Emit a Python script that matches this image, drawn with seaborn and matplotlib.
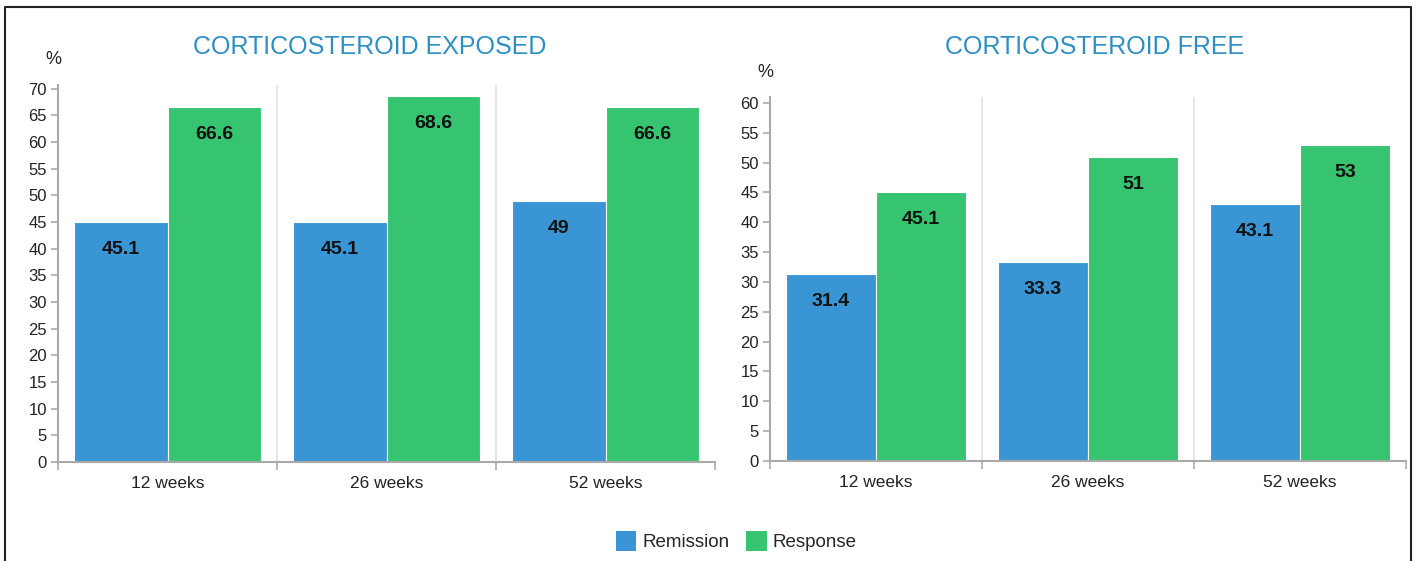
import matplotlib
matplotlib.use("Agg")
import matplotlib.pyplot as plt
from matplotlib.patches import Patch
from matplotlib.lines import Line2D
from matplotlib.ticker import FixedLocator
import seaborn as sns
import pandas as pd

# Data
weeks = ["12 weeks", "26 weeks", "52 weeks"]
measures = ["Remission", "Response"]
exposed_remission = [45.1, 45.1, 49]
exposed_response = [66.6, 68.6, 66.6]
free_remission = [31.4, 33.3, 43.1]
free_response = [45.1, 51, 53]
titles = ["CORTICOSTEROID EXPOSED", "CORTICOSTEROID FREE"]

BLUE = "#3a95d4"
GREEN = "#36c470"
TITLE_COLOR = "#2e8fc4"
AXIS_GRAY = "#a9a9a9"
GRID_GRAY = "#e3e3e3"

sns.set_theme(style="white")
plt.rcParams["font.family"] = ["Liberation Sans", "DejaVu Sans"]


def make_frame(rem, resp):
    rows = []
    for w, r, s in zip(weeks, rem, resp):
        rows.append({"week": w, "measure": measures[0], "value": r})
        rows.append({"week": w, "measure": measures[1], "value": s})
    return pd.DataFrame(rows)


fig = plt.figure(figsize=(14.17, 5.61), dpi=100)
fig.patch.set_facecolor("white")

W, H = 1417, 561
# axes boxes in pixel coordinates: left, right, bottom, top
boxes = [(58, 715, 462, 85), (770, 1406, 461, 97)]
ylims = [70.7, 61.0]
ymaxticks = [70, 60]
title_x = [370, 1095]
pct_pos = [(53, 60), (765, 72)]

datasets = [make_frame(exposed_remission, exposed_response),
            make_frame(free_remission, free_response)]

for i, (df, (l, r, b, t)) in enumerate(zip(datasets, boxes)):
    ax = fig.add_axes([l / W, 1 - b / H, (r - l) / W, (b - t) / H])
    sns.barplot(data=df, x="week", y="value", hue="measure", order=weeks,
                hue_order=measures, palette=[BLUE, GREEN], width=0.85,
                saturation=1, ax=ax, legend=False, edgecolor="white",
                linewidth=0.8)
    ax.set_xlim(-0.5, 2.5)
    ax.set_ylim(0, ylims[i])
    ax.set_xlabel("")
    ax.set_ylabel("")

    # horizontal grid every 15, tick labels every 5
    ax.yaxis.set_major_locator(FixedLocator(list(range(0, ymaxticks[i] + 1, 5))))
    ax.yaxis.set_minor_locator(FixedLocator(list(range(15, ymaxticks[i] + 1, 15))))
    ax.grid(False)
    ax.grid(which="minor", axis="y", color=GRID_GRAY, linewidth=1.2)
    for xv in (0.5, 1.5):
        ax.axvline(xv, color=GRID_GRAY, linewidth=1.2, zorder=0)
    ax.set_axisbelow(True)

    # category separator ticks on the x axis
    ax.xaxis.set_minor_locator(FixedLocator([-0.5, 0.5, 1.5, 2.5]))
    ax.tick_params(axis="x", which="major", length=0, pad=10, labelsize=12.5,
                   labelcolor="#222222")
    ax.tick_params(axis="x", which="minor", length=6, width=1.2,
                   color=AXIS_GRAY, direction="out", bottom=True)
    ax.tick_params(axis="y", which="major", length=5, width=1.2,
                   color=AXIS_GRAY, direction="out", left=True, pad=3,
                   labelsize=12, labelcolor="#222222")
    ax.tick_params(axis="y", which="minor", length=0)

    for side in ("top", "right"):
        ax.spines[side].set_visible(False)
    for side in ("left", "bottom"):
        ax.spines[side].set_color(AXIS_GRAY)
        ax.spines[side].set_linewidth(1.5)
    ax.patch.set_alpha(0)

    for cont in ax.containers:
        ax.bar_label(cont, labels=[f"{v:g}" for v in cont.datavalues],
                     padding=-26, fontsize=14, fontweight="bold",
                     color="#111111")

    fig.text(pct_pos[i][0] / W, 1 - pct_pos[i][1] / H, "%", ha="center",
             va="center", fontsize=13, color="#222222")
    fig.text(title_x[i] / W, 1 - 47 / H, titles[i], ha="center", va="center",
             fontsize=18, color=TITLE_COLOR)

handles = [Patch(facecolor=BLUE, edgecolor="none"), Patch(facecolor=GREEN, edgecolor="none")]
fig.legend(handles, measures, loc="center", bbox_to_anchor=(736 / W, 1 - 541 / H),
           ncol=2, frameon=False, fontsize=13.5, handlelength=1.1, handleheight=1.3,
           handletextpad=0.3, columnspacing=0.9)

# thin frame on the left, top and right of the figure
xl, xr, yt = 5 / W, 1411 / W, 1 - 7 / H
fig.add_artist(Line2D([xl, xl, xr, xr], [0, yt, yt, 0], transform=fig.transFigure,
                      color="#222222", linewidth=1.5))

fig.savefig("out.png", dpi=100, facecolor="white")
